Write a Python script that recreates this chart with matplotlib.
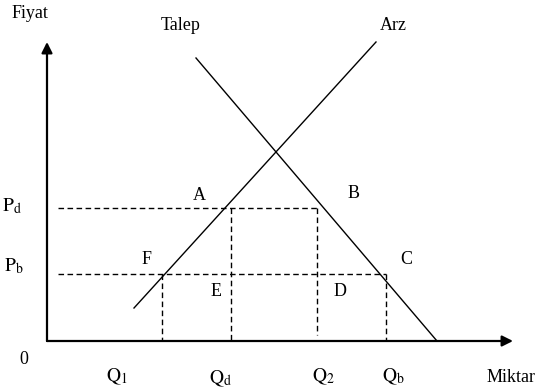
import matplotlib.pyplot as plt

plt.rcParams['font.family'] = ['Liberation Serif', 'DejaVu Serif']
plt.rcParams['mathtext.fontset'] = 'stix'

# Curves (quantity, price)
arz_q = [8.7, 32.9]
arz_p = [3.3, 29.9]
talep_q = [14.9, 39.0]
talep_p = [28.3, 0.0]

# Price levels
p_d = 13.3
p_b = 6.7

# Quantity levels
q_1 = 11.5
q_d = 18.4
q_2 = 27.0
q_b = 33.9

fig = plt.figure(figsize=(5.38, 3.91), dpi=100)
ax = fig.add_axes([0, 0, 1, 1])
ax.set_xlim(-4.7, 49.1)
ax.set_ylim(-5.0, 34.1)
ax.axis('off')

# Axes with arrows
arrow = dict(arrowstyle='-|>', lw=1.6, color='black', mutation_scale=16,
             shrinkA=0, shrinkB=0)
ax.annotate('', xy=(0, 29.9), xytext=(0, 0), arrowprops=arrow)
ax.annotate('', xy=(46.6, 0), xytext=(0, 0), arrowprops=arrow)

# Supply and demand
ax.plot(arz_q, arz_p, color='black', lw=1.0)
ax.plot(talep_q, talep_p, color='black', lw=1.0)

# Dashed guide lines
dash = dict(color='black', lw=1.0, linestyle=(0, (4, 2.5)))
ax.plot([1.1, q_2], [p_d, p_d], **dash)
ax.plot([1.1, q_b], [p_b, p_b], **dash)
ax.plot([q_1, q_1], [p_b, 0], **dash)
ax.plot([q_d, q_d], [p_d, 0], **dash)
ax.plot([q_2, q_2], [p_d, 0.6], **dash)
ax.plot([q_b, q_b], [p_b, 0], **dash)

fs = 13
ax.text(-1.7, 32.8, 'Fiyat', fontsize=fs, ha='center', va='center')
ax.text(13.4, 31.5, 'Talep', fontsize=fs, ha='center', va='center')
ax.text(34.6, 31.5, 'Arz', fontsize=fs, ha='center', va='center')
ax.text(-3.5, p_d + 0.2, r'$\mathrm{P}_\mathrm{d}$', fontsize=fs + 1, ha='center', va='center')
ax.text(-3.3, p_b + 0.8, r'$\mathrm{P}_\mathrm{b}$', fontsize=fs + 1, ha='center', va='center')
ax.text(-2.3, -1.8, '0', fontsize=fs, ha='center', va='center')
ax.text(q_1 - 4.5, -3.6, r'$\mathrm{Q}_1$', fontsize=fs + 1, ha='center', va='center')
ax.text(q_d - 1.0, -3.8, r'$\mathrm{Q}_\mathrm{d}$', fontsize=fs + 1, ha='center', va='center')
ax.text(q_2 + 0.6, -3.6, r'$\mathrm{Q}_2$', fontsize=fs + 1, ha='center', va='center')
ax.text(q_b + 0.7, -3.6, r'$\mathrm{Q}_\mathrm{b}$', fontsize=fs + 1, ha='center', va='center')
ax.text(46.4, -3.6, 'Miktar', fontsize=fs, ha='center', va='center')

ax.text(15.2, 14.6, 'A', fontsize=fs, ha='center', va='center')
ax.text(30.7, 14.8, 'B', fontsize=fs, ha='center', va='center')
ax.text(35.9, 8.2, 'C', fontsize=fs, ha='center', va='center')
ax.text(29.3, 5.0, 'D', fontsize=fs, ha='center', va='center')
ax.text(16.9, 5.0, 'E', fontsize=fs, ha='center', va='center')
ax.text(10.0, 8.2, 'F', fontsize=fs, ha='center', va='center')

fig.savefig('out.png', dpi=100)
